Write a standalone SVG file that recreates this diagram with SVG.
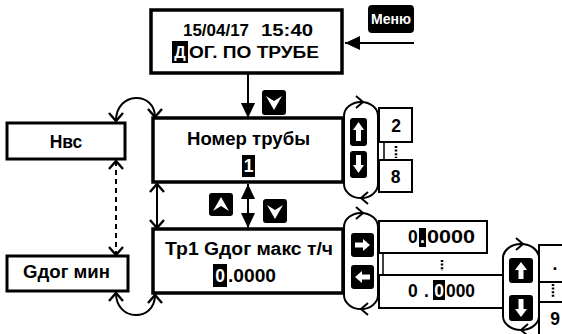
<svg xmlns="http://www.w3.org/2000/svg" width="562" height="334" viewBox="0 0 562 334">
<style>
.box{fill:#fff;stroke:#000;stroke-width:3.5}
.mbox{fill:#fff;stroke:#000;stroke-width:3}
.sbox{fill:#fff;stroke:#000;stroke-width:2}
.t{font-family:"Liberation Sans",Arial,sans-serif;font-weight:bold;fill:#000}
.big{font-size:17.5px}
.mid{font-size:16px}
.wt{fill:#fff}
.ln{stroke:#000;stroke-width:2;fill:none}
.thin{stroke:#000;stroke-width:1.5;fill:none}
.dots{stroke:#000;stroke-width:2.5;stroke-dasharray:2 1.6;fill:none}
.ic{fill:#000}
.iw{fill:#fff}
</style>
<defs>
<marker id="fa" viewBox="0 0 15 14" refX="15" refY="7" markerWidth="15" markerHeight="14" markerUnits="userSpaceOnUse" orient="auto-start-reverse"><path d="M0,0L15,7L0,14z" fill="#000"/></marker>
<marker id="oa" viewBox="0 0 10 16" refX="9" refY="8" markerWidth="10" markerHeight="16" markerUnits="userSpaceOnUse" orient="auto-start-reverse"><path d="M1,1L9,8L1,15" fill="none" stroke="#000" stroke-width="2.4"/></marker>
</defs>
<rect width="562" height="334" fill="#fff"/>

<g id="connectors">
  <line class="ln" x1="248" y1="74" x2="248" y2="118" marker-end="url(#fa)"/>
  <line class="ln" x1="414" y1="43" x2="345" y2="43" marker-end="url(#fa)"/>
  <line class="ln" x1="248" y1="184" x2="248" y2="228" marker-start="url(#fa)" marker-end="url(#fa)"/>
  <line class="ln" x1="157" y1="184" x2="157" y2="228" marker-start="url(#oa)" marker-end="url(#oa)"/>
  <path class="ln" d="M116,121 C116,91 155,91 155,117" marker-start="url(#oa)" marker-end="url(#oa)"/>
  <path class="ln" d="M116,293 C116,322 155,322 155,295" marker-start="url(#oa)" marker-end="url(#oa)"/>
  <line class="ln" x1="116" y1="161" x2="116" y2="255" stroke-dasharray="5 4" marker-start="url(#oa)" marker-end="url(#oa)"/>
  <rect class="ln" x="344" y="102" width="34" height="96" rx="17" ry="14"/>
  <path class="ln" d="M356,96L363,102L356,108"/>
  <path class="ln" d="M368,192L361,198L368,204"/>
  <rect class="ln" x="344" y="213" width="34" height="96" rx="17" ry="14"/>
  <path class="ln" d="M356,207L363,213L356,219"/>
  <path class="ln" d="M368,303L361,309L368,315"/>
  <rect class="ln" x="503" y="244" width="36" height="86" rx="18" ry="14"/>
  <path class="ln" d="M516,238L523,244L516,250"/>
  <path class="ln" d="M528,324L521,330L528,336"/>
  <line class="thin" x1="384" y1="142" x2="384" y2="160"/>
  <line class="dots" x1="396" y1="146" x2="396" y2="158"/>
  <line class="thin" x1="383" y1="253" x2="383" y2="275"/>
  <line class="dots" x1="442" y1="260" x2="442" y2="271"/>
  <line class="dots" x1="553" y1="284" x2="553" y2="298"/>
</g>

<g id="icons">
  <rect class="ic" x="262" y="90" width="24" height="25" rx="3"/>
  <polygon class="iw" points="266,96 274,101 282,96 274,110"/>
  <rect class="ic" x="209" y="193" width="24" height="23" rx="3"/>
  <polygon class="iw" points="213,211 221,206 229,211 221,197"/>
  <rect class="ic" x="263" y="199" width="24" height="24" rx="3"/>
  <polygon class="iw" points="267,205 275,210 283,205 275,219"/>
  <rect class="ic" x="350" y="118" width="17" height="28" rx="3"/>
  <polygon class="iw" points="358.5,122 353,130 356,130 356,141 361,141 361,130 364,130"/>
  <rect class="ic" x="350" y="151" width="17" height="27" rx="3"/>
  <polygon class="iw" points="358.5,173 353,165 356,165 356,155 361,155 361,165 364,165"/>
  <rect class="ic" x="351" y="233" width="23" height="24" rx="3"/>
  <polygon class="iw" points="370,245 363,239 363,242.5 355,242.5 355,247.5 363,247.5 363,251"/>
  <rect class="ic" x="351" y="265" width="23" height="24" rx="3"/>
  <polygon class="iw" points="355,277 362,271 362,274.5 370,274.5 370,279.5 362,279.5 362,283"/>
  <rect class="ic" x="509" y="258" width="24" height="25" rx="3"/>
  <polygon class="iw" points="521,262 515,270 518.5,270 518.5,279 523.5,279 523.5,270 527,270"/>
  <rect class="ic" x="509" y="295" width="24" height="26" rx="3"/>
  <polygon class="iw" points="521,317 515,309 518.5,309 518.5,299 523.5,299 523.5,309 527,309"/>
</g>

<g id="node-main">
  <rect class="box" x="151" y="10" width="191" height="63"/>
  <text class="t mid" x="183" y="36" textLength="66" lengthAdjust="spacingAndGlyphs">15/04/17</text>
  <text class="t mid" x="261" y="36" textLength="52" lengthAdjust="spacingAndGlyphs">15:40</text>
  <rect x="172" y="41" width="16" height="22" fill="#000"/>
  <text class="t mid wt" x="180" y="58" text-anchor="middle">Д</text>
  <text class="t mid" x="189" y="58" textLength="130" lengthAdjust="spacingAndGlyphs">ОГ. ПО ТРУБЕ</text>
</g>

<g id="node-menu">
  <rect x="368" y="5" width="46" height="28" rx="4" fill="#000"/>
  <text class="t wt" x="391" y="24" font-size="14" text-anchor="middle" textLength="40" lengthAdjust="spacingAndGlyphs">Меню</text>
</g>

<g id="node-pipe">
  <rect class="box" x="153" y="118" width="190" height="64"/>
  <text class="t big" x="187" y="145" textLength="123" lengthAdjust="spacingAndGlyphs">Номер трубы</text>
  <rect x="242" y="155" width="13" height="22" fill="#000"/>
  <text class="t big wt" x="248.5" y="172" text-anchor="middle">1</text>
</g>

<g id="node-gmax">
  <rect class="box" x="153" y="229" width="190" height="64"/>
  <text class="t big" x="165" y="255" textLength="168" lengthAdjust="spacingAndGlyphs">Тр1 Gдог макс т/ч</text>
  <rect x="213" y="264" width="14" height="23" fill="#000"/>
  <text class="t big wt" x="220" y="282" text-anchor="middle">0</text>
  <text class="t big" x="228" y="282" textLength="48" lengthAdjust="spacingAndGlyphs">.0000</text>
</g>

<g id="node-hvs">
  <rect class="mbox" x="7" y="123" width="118" height="36"/>
  <text class="t big" x="66" y="148" text-anchor="middle">Нвс</text>
</g>

<g id="node-gmin">
  <rect class="mbox" x="7" y="256" width="121" height="35"/>
  <text class="t big" x="23" y="278" textLength="87" lengthAdjust="spacingAndGlyphs">Gдог мин</text>
</g>

<g id="node-v2">
  <rect class="sbox" x="379" y="108" width="33" height="34"/>
  <text class="t big" x="396" y="132" text-anchor="middle">2</text>
</g>
<g id="node-v8">
  <rect class="sbox" x="379" y="160" width="33" height="32"/>
  <text class="t big" x="395.5" y="183" text-anchor="middle">8</text>
</g>

<g id="node-d1">
  <rect class="sbox" x="379" y="221" width="108" height="32"/>
  <text class="t big" x="408" y="243">0</text>
  <rect x="419" y="228" width="7" height="19" fill="#000"/>
  <text class="t big wt" x="422.5" y="243" text-anchor="middle">.</text>
  <text class="t big" x="427" y="243" textLength="48" lengthAdjust="spacingAndGlyphs">0000</text>
</g>
<g id="node-d2">
  <rect class="sbox" x="379" y="275" width="124" height="33"/>
  <text class="t big" x="408" y="297">0</text>
  <text class="t big" x="424" y="297">.</text>
  <rect x="433" y="280" width="12" height="20" fill="#000"/>
  <text class="t big wt" x="439" y="297" text-anchor="middle">0</text>
  <text class="t big" x="446" y="297" textLength="29" lengthAdjust="spacingAndGlyphs">000</text>
</g>

<g id="node-r1">
  <rect class="sbox" x="539" y="245" width="40" height="37"/>
  <text class="t big" x="555" y="270" text-anchor="middle">.</text>
</g>
<g id="node-r2">
  <rect class="sbox" x="539" y="302" width="40" height="40"/>
  <text class="t big" x="555" y="325" text-anchor="middle">9</text>
</g>
</svg>
